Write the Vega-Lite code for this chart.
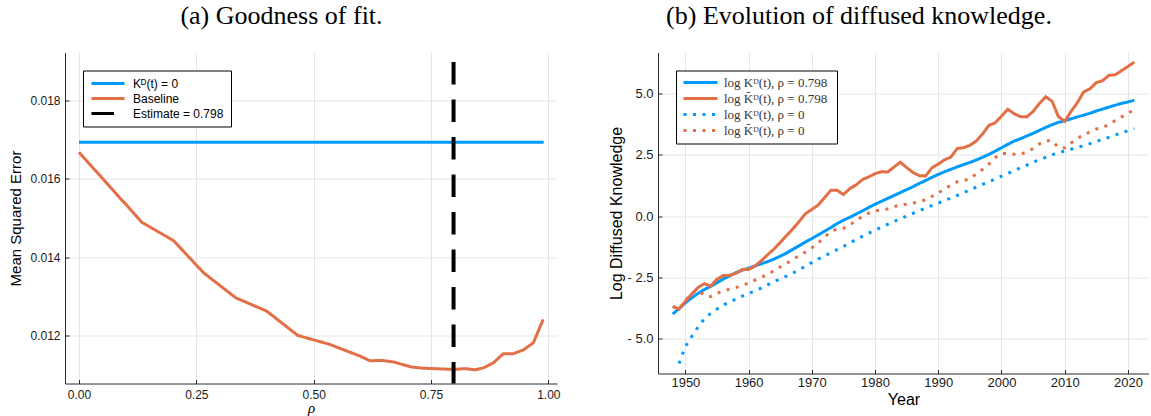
{
  "$schema": "https://vega.github.io/schema/vega-lite/v6.json",
  "background": "white",
  "padding": {"left": 8, "top": 2.5, "right": 0, "bottom": 0},
  "spacing": 47,
  "resolve": {"scale": {"color": "independent", "strokeDash": "independent"}, "legend": {"color": "independent", "strokeDash": "independent"}},
  "config": {
    "view": {"stroke": null},
    "axis": {
      "labelFont": "Liberation Sans", "titleFont": "Liberation Sans", "titleFontWeight": "normal",
      "domainColor": "#2b2b2b", "domainWidth": 1, "tickColor": "#2b2b2b", "tickSize": -4,
      "gridColor": "#e6e6e6", "gridWidth": 1, "labelColor": "#1a1a1a", "titleColor": "#000",
      "labelPadding": 9, "labelFlush": false, "labelOverlap": false
    },
    "title": {"font": "Liberation Serif", "fontSize": 26, "fontWeight": "normal", "color": "#000", "frame": "bounds", "anchor": "middle", "baseline": "alphabetic", "offset": 23.5}
  },
  "hconcat": [
    {
      "title": {"text": "(a) Goodness of fit.", "dx": -3},
      "width": 492, "height": 331,
      "layer": [
        {
          "data": {"values": [
            {"rho": 0.0, "mse": 0.016935, "s": "Kᴰ(t) = 0"},
            {"rho": 0.99, "mse": 0.016935, "s": "Kᴰ(t) = 0"},
            {"rho": 0.000, "mse": 0.01668, "s": "Baseline"},
            {"rho": 0.134, "mse": 0.01489, "s": "Baseline"},
            {"rho": 0.2016, "mse": 0.01442, "s": "Baseline"},
            {"rho": 0.2654, "mse": 0.01360, "s": "Baseline"},
            {"rho": 0.334, "mse": 0.01296, "s": "Baseline"},
            {"rho": 0.400, "mse": 0.01262, "s": "Baseline"},
            {"rho": 0.466, "mse": 0.01200, "s": "Baseline"},
            {"rho": 0.534, "mse": 0.01177, "s": "Baseline"},
            {"rho": 0.599, "mse": 0.01147, "s": "Baseline"},
            {"rho": 0.620, "mse": 0.01135, "s": "Baseline"},
            {"rho": 0.645, "mse": 0.01136, "s": "Baseline"},
            {"rho": 0.670, "mse": 0.01132, "s": "Baseline"},
            {"rho": 0.709, "mse": 0.01119, "s": "Baseline"},
            {"rho": 0.734, "mse": 0.01116, "s": "Baseline"},
            {"rho": 0.798, "mse": 0.01113, "s": "Baseline"},
            {"rho": 0.823, "mse": 0.01115, "s": "Baseline"},
            {"rho": 0.844, "mse": 0.01112, "s": "Baseline"},
            {"rho": 0.862, "mse": 0.01117, "s": "Baseline"},
            {"rho": 0.883, "mse": 0.01130, "s": "Baseline"},
            {"rho": 0.904, "mse": 0.01153, "s": "Baseline"},
            {"rho": 0.925, "mse": 0.01153, "s": "Baseline"},
            {"rho": 0.947, "mse": 0.01163, "s": "Baseline"},
            {"rho": 0.968, "mse": 0.01181, "s": "Baseline"},
            {"rho": 0.989, "mse": 0.01241, "s": "Baseline"}
          ]},
          "mark": {"type": "line", "strokeWidth": 3, "clip": true},
          "encoding": {
            "x": {"field": "rho", "type": "quantitative", "scale": {"domain": [-0.0298, 1.0184], "nice": false, "zero": false},
                  "axis": {"values": [0, 0.25, 0.5, 0.75, 1], "format": ".2f", "title": "ρ", "titleFont": "Liberation Serif", "titleFontStyle": "italic", "titleFontSize": 15, "labelFontSize": 12, "labelPadding": 10, "titlePadding": 0}},
            "y": {"field": "mse", "type": "quantitative", "scale": {"domain": [0.01077, 0.01923], "nice": false, "zero": false},
                  "axis": {"values": [0.012, 0.014, 0.016, 0.018], "format": ".3f", "title": "Mean Squared Error", "titleFontSize": 15, "labelFontSize": 12, "titlePadding": 6}},
            "color": {"field": "s", "type": "nominal",
                      "scale": {"domain": ["Kᴰ(t) = 0", "Baseline", "Estimate = 0.798"], "range": ["#009AFA", "#E36F47", "#000000"]},
                      "legend": {"title": null, "orient": "top-left", "offset": 18, "direction": "vertical", "padding": 7, "strokeColor": "#000", "fillColor": "#fff", "symbolType": "stroke", "symbolSize": 1089, "symbolStrokeWidth": 3, "clipHeight": 12, "rowPadding": 3, "labelOffset": 7, "labelFont": "Liberation Sans", "labelFontSize": 12, "labelColor": "#000", "labelLimit": 400}},
            "strokeDash": {"field": "s", "type": "nominal",
                      "scale": {"domain": ["Kᴰ(t) = 0", "Baseline", "Estimate = 0.798"], "range": [[1, 0], [1, 0], [22.5, 15]]},
                      "legend": {"title": null, "orient": "top-left", "offset": 18, "direction": "vertical", "padding": 7, "strokeColor": "#000", "fillColor": "#fff", "symbolType": "stroke", "symbolSize": 1089, "symbolStrokeWidth": 3, "clipHeight": 12, "rowPadding": 3, "labelOffset": 7, "labelFont": "Liberation Sans", "labelFontSize": 12, "labelColor": "#000", "labelLimit": 400}}
          }
        },
        {
          "data": {"values": [{"rho": 0.798, "hi": 0.01899, "lo": 0.01077, "s": "Estimate = 0.798"}]},
          "mark": {"type": "rule", "strokeWidth": 4},
          "encoding": {
            "x": {"field": "rho", "type": "quantitative"},
            "y": {"field": "hi", "type": "quantitative"},
            "y2": {"field": "lo"},
            "color": {"field": "s", "type": "nominal"},
            "strokeDash": {"field": "s", "type": "nominal"}
          }
        }
      ]
    },
    {
      "title": {"text": "(b) Evolution of diffused knowledge.", "dx": -20},
      "width": 491, "height": 321,
      "data": {"values": [
        {"year": 1948, "a": -4.00, "b": -3.69, "c": null, "d": -3.69},
        {"year": 1949, "a": -3.78, "b": -3.80, "c": -6.02, "d": -3.80},
        {"year": 1950, "a": -3.55, "b": -3.48, "c": -5.33, "d": -3.45},
        {"year": 1951, "a": -3.34, "b": -3.18, "c": -4.92, "d": -3.15},
        {"year": 1952, "a": -3.16, "b": -2.92, "c": -4.53, "d": -3.02},
        {"year": 1953, "a": -3.00, "b": -2.76, "c": -4.20, "d": -3.25},
        {"year": 1954, "a": -2.87, "b": -2.86, "c": -3.97, "d": -3.29},
        {"year": 1955, "a": -2.72, "b": -2.58, "c": -3.80, "d": -3.16},
        {"year": 1956, "a": -2.57, "b": -2.43, "c": -3.63, "d": -3.05},
        {"year": 1957, "a": -2.44, "b": -2.42, "c": -3.51, "d": -2.99},
        {"year": 1958, "a": -2.31, "b": -2.34, "c": -3.39, "d": -2.92},
        {"year": 1959, "a": -2.21, "b": -2.18, "c": -3.27, "d": -2.82},
        {"year": 1960, "a": -2.13, "b": -2.18, "c": -3.16, "d": -2.74},
        {"year": 1961, "a": -2.04, "b": -2.04, "c": -3.06, "d": -2.62},
        {"year": 1962, "a": -1.95, "b": -1.83, "c": -2.94, "d": -2.50},
        {"year": 1963, "a": -1.86, "b": -1.58, "c": -2.81, "d": -2.39},
        {"year": 1964, "a": -1.76, "b": -1.35, "c": -2.68, "d": -2.23},
        {"year": 1965, "a": -1.64, "b": -1.08, "c": -2.56, "d": -2.08},
        {"year": 1966, "a": -1.51, "b": -0.80, "c": -2.45, "d": -1.93},
        {"year": 1967, "a": -1.36, "b": -0.52, "c": -2.33, "d": -1.77},
        {"year": 1968, "a": -1.21, "b": -0.22, "c": -2.20, "d": -1.62},
        {"year": 1969, "a": -1.06, "b": 0.10, "c": -2.05, "d": -1.47},
        {"year": 1970, "a": -0.92, "b": 0.27, "c": -1.90, "d": -1.30},
        {"year": 1971, "a": -0.77, "b": 0.45, "c": -1.76, "d": -1.10},
        {"year": 1972, "a": -0.62, "b": 0.75, "c": -1.63, "d": -0.85},
        {"year": 1973, "a": -0.47, "b": 1.05, "c": -1.50, "d": -0.65},
        {"year": 1974, "a": -0.31, "b": 1.05, "c": -1.37, "d": -0.52},
        {"year": 1975, "a": -0.17, "b": 0.88, "c": -1.24, "d": -0.50},
        {"year": 1976, "a": -0.05, "b": 1.12, "c": -1.10, "d": -0.37},
        {"year": 1977, "a": 0.08, "b": 1.27, "c": -0.96, "d": -0.18},
        {"year": 1978, "a": 0.21, "b": 1.49, "c": -0.83, "d": -0.02},
        {"year": 1979, "a": 0.35, "b": 1.60, "c": -0.70, "d": 0.12},
        {"year": 1980, "a": 0.48, "b": 1.73, "c": -0.58, "d": 0.21},
        {"year": 1981, "a": 0.60, "b": 1.81, "c": -0.46, "d": 0.25},
        {"year": 1982, "a": 0.72, "b": 1.80, "c": -0.34, "d": 0.29},
        {"year": 1983, "a": 0.84, "b": 2.00, "c": -0.22, "d": 0.38},
        {"year": 1984, "a": 0.96, "b": 2.20, "c": -0.11, "d": 0.46},
        {"year": 1985, "a": 1.08, "b": 1.98, "c": 0.00, "d": 0.48},
        {"year": 1986, "a": 1.20, "b": 1.78, "c": 0.11, "d": 0.53},
        {"year": 1987, "a": 1.33, "b": 1.65, "c": 0.22, "d": 0.58},
        {"year": 1988, "a": 1.45, "b": 1.64, "c": 0.33, "d": 0.66},
        {"year": 1989, "a": 1.58, "b": 1.97, "c": 0.43, "d": 0.80},
        {"year": 1990, "a": 1.70, "b": 2.12, "c": 0.53, "d": 0.95},
        {"year": 1991, "a": 1.81, "b": 2.30, "c": 0.63, "d": 1.11},
        {"year": 1992, "a": 1.91, "b": 2.41, "c": 0.74, "d": 1.26},
        {"year": 1993, "a": 2.01, "b": 2.76, "c": 0.84, "d": 1.40},
        {"year": 1994, "a": 2.10, "b": 2.79, "c": 0.95, "d": 1.45},
        {"year": 1995, "a": 2.19, "b": 2.89, "c": 1.07, "d": 1.52},
        {"year": 1996, "a": 2.29, "b": 3.06, "c": 1.18, "d": 1.72},
        {"year": 1997, "a": 2.40, "b": 3.35, "c": 1.29, "d": 1.90},
        {"year": 1998, "a": 2.52, "b": 3.70, "c": 1.40, "d": 2.12},
        {"year": 1999, "a": 2.65, "b": 3.81, "c": 1.52, "d": 2.38},
        {"year": 2000, "a": 2.79, "b": 4.08, "c": 1.63, "d": 2.55},
        {"year": 2001, "a": 2.93, "b": 4.36, "c": 1.74, "d": 2.56},
        {"year": 2002, "a": 3.06, "b": 4.18, "c": 1.85, "d": 2.52},
        {"year": 2003, "a": 3.16, "b": 4.06, "c": 1.97, "d": 2.52},
        {"year": 2004, "a": 3.27, "b": 4.05, "c": 2.08, "d": 2.62},
        {"year": 2005, "a": 3.38, "b": 4.27, "c": 2.20, "d": 2.76},
        {"year": 2006, "a": 3.50, "b": 4.60, "c": 2.30, "d": 2.95},
        {"year": 2007, "a": 3.62, "b": 4.87, "c": 2.40, "d": 3.08},
        {"year": 2008, "a": 3.73, "b": 4.69, "c": 2.50, "d": 3.08},
        {"year": 2009, "a": 3.83, "b": 4.06, "c": 2.58, "d": 2.80},
        {"year": 2010, "a": 3.89, "b": 3.87, "c": 2.66, "d": 2.78},
        {"year": 2011, "a": 3.97, "b": 4.27, "c": 2.73, "d": 2.98},
        {"year": 2012, "a": 4.05, "b": 4.63, "c": 2.80, "d": 3.18},
        {"year": 2013, "a": 4.12, "b": 5.07, "c": 2.88, "d": 3.30},
        {"year": 2014, "a": 4.20, "b": 5.20, "c": 2.96, "d": 3.45},
        {"year": 2015, "a": 4.29, "b": 5.45, "c": 3.05, "d": 3.56},
        {"year": 2016, "a": 4.37, "b": 5.53, "c": 3.13, "d": 3.62},
        {"year": 2017, "a": 4.45, "b": 5.75, "c": 3.22, "d": 3.74},
        {"year": 2018, "a": 4.53, "b": 5.77, "c": 3.31, "d": 3.90},
        {"year": 2019, "a": 4.60, "b": 5.94, "c": 3.40, "d": 4.05},
        {"year": 2020, "a": 4.66, "b": 6.11, "c": 3.49, "d": 4.20},
        {"year": 2021, "a": 4.73, "b": 6.29, "c": 3.57, "d": 4.35}
      ]},
      "transform": [{"fold": ["a", "b", "c", "d"], "as": ["s", "v"]}],
      "mark": {"type": "line", "strokeWidth": 3, "strokeCap": "butt"},
      "encoding": {
        "x": {"field": "year", "type": "quantitative", "scale": {"domain": [1945.67, 2023.33], "nice": false, "zero": false},
              "axis": {"values": [1950, 1960, 1970, 1980, 1990, 2000, 2010, 2020], "format": "d", "title": "Year", "titleFontSize": 16, "labelFontSize": 13, "labelPadding": 7, "titlePadding": 2}},
        "y": {"field": "v", "type": "quantitative", "scale": {"domain": [-6.43, 6.68], "nice": false, "zero": false},
              "axis": {"values": [-5, -2.5, 0, 2.5, 5], "labelExpr": "datum.value < 0 ? '- ' + format(-datum.value, '.1f') : format(datum.value, '.1f')", "title": "Log Diffused Knowledge", "titleFontSize": 16, "labelFontSize": 13, "titlePadding": 2}},
        "color": {"field": "s", "type": "nominal",
                  "scale": {"domain": ["a", "b", "c", "d"], "range": ["#009AFA", "#E36F47", "#009AFA", "#E36F47"]},
                  "legend": {"title": null, "orient": "top-left", "offset": 18, "direction": "vertical", "padding": 6, "strokeColor": "#000", "fillColor": "#fff", "symbolType": "stroke", "symbolSize": 1156, "symbolStrokeWidth": 3, "clipHeight": 12, "rowPadding": 3, "labelOffset": 5, "labelFont": "Liberation Serif", "labelFontSize": 13, "labelColor": "#333", "labelLimit": 400,
                             "labelExpr": "{'a': 'log Kᴰ(t),  ρ = 0.798', 'b': 'log K̄ᴰ(t),  ρ = 0.798', 'c': 'log Kᴰ(t),  ρ = 0', 'd': 'log K̄ᴰ(t),  ρ = 0'}[datum.label]"}},
        "strokeDash": {"field": "s", "type": "nominal",
                  "scale": {"domain": ["a", "b", "c", "d"], "range": [[1, 0], [1, 0], [3, 6.5], [3, 6.5]]},
                  "legend": {"title": null, "orient": "top-left", "offset": 18, "direction": "vertical", "padding": 6, "strokeColor": "#000", "fillColor": "#fff", "symbolType": "stroke", "symbolSize": 1156, "symbolStrokeWidth": 3, "clipHeight": 12, "rowPadding": 3, "labelOffset": 5, "labelFont": "Liberation Serif", "labelFontSize": 13, "labelColor": "#333", "labelLimit": 400,
                             "labelExpr": "{'a': 'log Kᴰ(t),  ρ = 0.798', 'b': 'log K̄ᴰ(t),  ρ = 0.798', 'c': 'log Kᴰ(t),  ρ = 0', 'd': 'log K̄ᴰ(t),  ρ = 0'}[datum.label]"}}
      }
    }
  ]
}
